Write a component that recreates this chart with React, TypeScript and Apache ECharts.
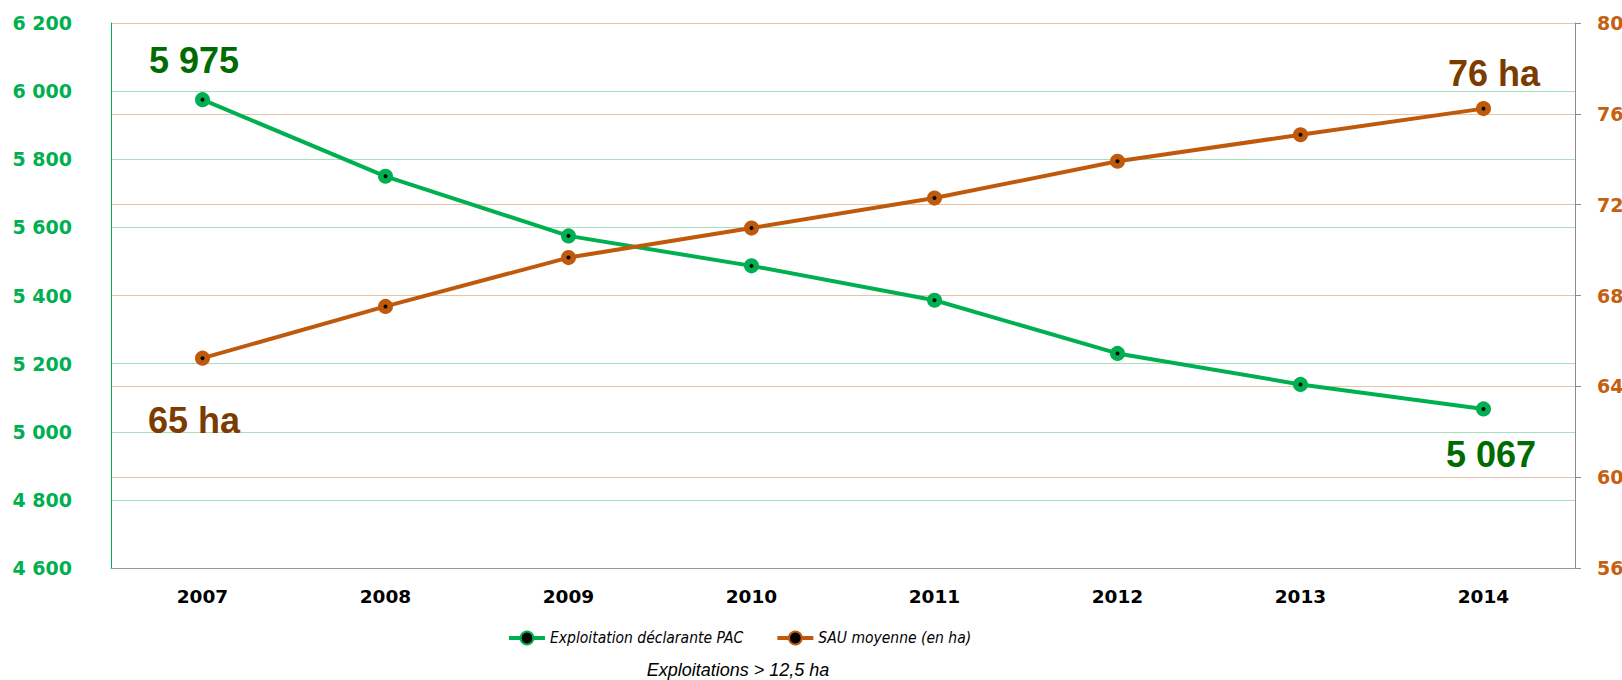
import React, { useEffect, useRef } from "react";
import * as echarts from "echarts";

const years = ["2007", "2008", "2009", "2010", "2011", "2012", "2013", "2014"];
const exploitations = [5975, 5750, 5575, 5487, 5386, 5230, 5139, 5067];
const sauMoyenne = [65.24, 67.52, 69.67, 70.97, 72.29, 73.91, 75.08, 76.23];
const seriesNames = ["Exploitation déclarante PAC", "SAU moyenne (en ha)"];
const subtitle = "Exploitations > 12,5 ha";

const GREEN = "#00B050";
const ORANGE = "#BF5A0C";
const fmtThousands = (v: number) => String(Math.round(v)).replace(/\B(?=(\d{3})+(?!\d))/g, " ");

export default function App() {
  const ref = useRef<HTMLDivElement>(null);
  useEffect(() => {
    if (!ref.current) return;
    const chart = echarts.init(ref.current, null, { renderer: "svg" });
    const last = years.length - 1;
    const bigLabel = (color: string, offset: number[], text: string) => ({
      show: true,
      position: "inside",
      offset,
      formatter: text,
      color,
      fontFamily: "Liberation Sans",
      fontWeight: "bold",
      fontSize: 36,
      align: "center",
      verticalAlign: "middle",
    });
    const greenData = exploitations.map((v, i) => {
      if (i === 0) return { value: v, label: bigLabel("#006B00", [-8.5, -39], fmtThousands(v)) };
      if (i === last) return { value: v, label: bigLabel("#006B00", [7.5, 46], fmtThousands(v)) };
      return v;
    });
    const orangeData = sauMoyenne.map((v, i) => {
      if (i === 0) return { value: v, label: bigLabel("#7B3C00", [-8.5, 62], Math.round(v) + " ha") };
      if (i === last) return { value: v, label: bigLabel("#7B3C00", [10.5, -35], Math.round(v) + " ha") };
      return v;
    });
    chart.setOption({
      animation: false,
      backgroundColor: "#ffffff",
      grid: {
        left: 111,
        right: 47,
        top: 23,
        bottom: 112,
        containLabel: false,
        outerBoundsMode: "none",
      },
      legend: {
        left: 502,
        top: 625,
        itemWidth: 36,
        itemHeight: 16,
        itemGap: 32,
        lineStyle: { width: 4 },
        textStyle: {
          fontFamily: "DejaVu Sans Condensed",
          fontStyle: "italic",
          fontSize: 15.5,
          color: "#000",
        },
        data: seriesNames,
      },
      graphic: [
        {
          type: "text",
          x: 738,
          y: 670,
          style: {
            text: subtitle,
            fontFamily: "Liberation Sans",
            fontStyle: "italic",
            fontSize: 18,
            fill: "#000",
            textAlign: "center",
            textVerticalAlign: "middle",
          },
        },
      ],
      xAxis: {
        type: "category",
        data: years,
        boundaryGap: true,
        axisLine: { show: true, lineStyle: { color: "#999999", width: 1 } },
        axisTick: { show: false },
        axisLabel: {
          margin: 19,
          color: "#000",
          fontFamily: "DejaVu Sans",
          fontWeight: "bold",
          fontSize: 18.5,
        },
        splitLine: { show: false },
      },
      yAxis: [
        {
          type: "value",
          min: 4600,
          max: 6200,
          interval: 200,
          position: "left",
          axisLine: { show: true, lineStyle: { color: GREEN, width: 1 } },
          axisTick: { show: false },
          axisLabel: {
            margin: 39,
            color: GREEN,
            fontFamily: "DejaVu Sans",
            fontWeight: "bold",
            fontSize: 19,
            formatter: (v: number) => fmtThousands(v),
          },
          splitLine: { show: true, lineStyle: { color: "#A6E0BD", width: 1 } },
        },
        {
          type: "value",
          min: 56,
          max: 80,
          interval: 4,
          position: "right",
          axisLine: { show: true, lineStyle: { color: "#8C8C8C", width: 1 } },
          axisTick: { show: true, length: 6, lineStyle: { color: "#8C8C8C" } },
          axisLabel: {
            margin: 22,
            color: "#C4600F",
            fontFamily: "DejaVu Sans",
            fontWeight: "bold",
            fontSize: 19,
          },
          splitLine: { show: true, lineStyle: { color: "#E8C4A6", width: 1 } },
        },
      ],
      series: [
        {
          name: seriesNames[0],
          type: "line",
          yAxisIndex: 0,
          data: greenData,
          symbol: "circle",
          symbolSize: 9.5,
          lineStyle: { color: GREEN, width: 4 },
          itemStyle: { color: "#000", borderColor: GREEN, borderWidth: 5.5 },
          emphasis: { disabled: true },
        },
        {
          name: seriesNames[1],
          type: "line",
          yAxisIndex: 1,
          data: orangeData,
          symbol: "circle",
          symbolSize: 9.5,
          lineStyle: { color: ORANGE, width: 4 },
          itemStyle: { color: "#000", borderColor: ORANGE, borderWidth: 5.5 },
          emphasis: { disabled: true },
        },
      ],
    });
    return () => chart.dispose();
  }, []);
  return (
    <div
      ref={ref}
      style={{ position: "fixed", left: 0, top: 0, width: 1622, height: 680 }}
    />
  );
}
